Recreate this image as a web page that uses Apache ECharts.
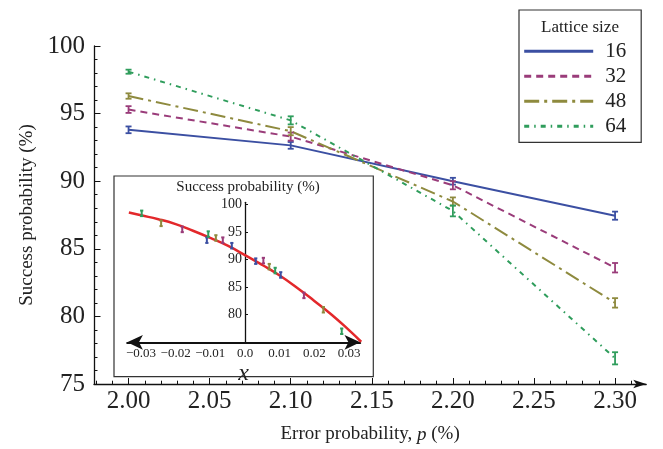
<!DOCTYPE html>
<html><head><meta charset="utf-8">
<script src="https://cdn.jsdelivr.net/npm/echarts@6/dist/echarts.min.js"></script>
<style>html,body{margin:0;padding:0;background:#fff}#c{width:663px;height:449px}</style>
</head><body><div id="c"></div>
<script>
// ---- main chart data ----
const errorProb = [2.00, 2.10, 2.20, 2.30];
const latticeNames = ['16', '32', '48', '64'];
const succ16 = [93.8, 92.65, 90.0, 87.45];
const succ32 = [95.3, 93.3, 89.7, 83.6];
const succ48 = [96.3, 93.7, 88.5, 81.0];
const succ64 = [98.1, 94.5, 87.8, 76.9];
const err16 = [0.25, 0.25, 0.25, 0.3];
const err32 = [0.25, 0.3, 0.3, 0.35];
const err48 = [0.2, 0.3, 0.3, 0.35];
const err64 = [0.15, 0.3, 0.4, 0.45];
const xMajorTicks = [2.00, 2.05, 2.10, 2.15, 2.20, 2.25, 2.30];
const xMinorTicks = [1.98, 1.99, 2.01, 2.02, 2.03, 2.04, 2.06, 2.07, 2.08, 2.09, 2.11, 2.12, 2.13, 2.14, 2.16, 2.17, 2.18, 2.19, 2.21, 2.22, 2.23, 2.24, 2.26, 2.27, 2.28, 2.29, 2.31];
const yTickLabels = [75, 80, 85, 90, 95, 100];

// ---- inset data (rescaled x) ----
const insetX16 = [-0.0110, -0.0038, 0.0031, 0.0103];
const insetY16 = [93.5, 92.5, 89.7, 87.2];
const insetX32 = [-0.0181, -0.0064, 0.0053, 0.0170];
const insetY32 = [95.45, 93.5, 89.8, 83.5];
const insetX48 = [-0.0242, -0.0084, 0.0070, 0.0226];
const insetY48 = [96.55, 93.9, 88.7, 80.9];
const insetX64 = [-0.0298, -0.0106, 0.0087, 0.0279];
const insetY64 = [98.36, 94.6, 88.0, 77.0];
const insetErr = [0.5, 0.5, 0.5, 0.5];
const fitX = [-0.0335, -0.03, -0.025, -0.02, -0.015, -0.01, -0.005, 0, 0.005, 0.01, 0.015, 0.02, 0.025, 0.03, 0.0335];
const fitY = [98.5, 98.0, 97.3, 96.4, 95.2, 93.9, 92.5, 90.8, 89.0, 87.1, 84.9, 82.5, 80.0, 77.2, 75.1];
const insetXTicks = [-0.03, -0.02, -0.01, 0, 0.01, 0.02, 0.03];
const insetYTicks = [80, 85, 90, 95, 100];

const colors = ['#3b4fa2', '#9a3c7a', '#8e8a3e', '#2f9d5c'];
const dashes = ['solid', [7, 5], [15, 5, 3, 5], [5, 5, 1.5, 5]];
const FONT = 'Liberation Serif';
const succ = [succ16, succ32, succ48, succ64];
const errs = [err16, err32, err48, err64];
const insetX = [insetX16, insetX32, insetX48, insetX64];
const insetY = [insetY16, insetY32, insetY48, insetY64];

const INSET_LEFT = 127.2, INSET_W = 233, INSET_XMIN = -0.03398, INSET_XMAX = 0.03323;
const insetZeroOffset = -(0 - INSET_XMIN) / (INSET_XMAX - INSET_XMIN) * INSET_W;

function errRender(color, cap, lw) {
  return function (params, api) {
    const x = api.value(0), y = api.value(1), e = api.value(2);
    const t = api.coord([x, y + e]), b = api.coord([x, y - e]);
    const st = { stroke: color, lineWidth: lw };
    return { type: 'group', children: [
      { type: 'line', shape: { x1: t[0], y1: t[1], x2: b[0], y2: b[1] }, style: st },
      { type: 'line', shape: { x1: t[0] - cap, y1: t[1], x2: t[0] + cap, y2: t[1] }, style: st },
      { type: 'line', shape: { x1: b[0] - cap, y1: b[1], x2: b[0] + cap, y2: b[1] }, style: st }
    ]};
  };
}

const series = [];
latticeNames.forEach((name, k) => {
  series.push({
    name: name, type: 'line', xAxisIndex: 0, yAxisIndex: 0, symbol: 'none', showSymbol: false,
    lineStyle: { color: colors[k], width: 2, type: dashes[k], cap: 'butt' },
    itemStyle: { color: colors[k] },
    data: errorProb.map((x, i) => [x, succ[k][i]]), z: 3
  });
  series.push({
    name: 'err' + name, type: 'custom', xAxisIndex: 0, yAxisIndex: 0,
    renderItem: errRender(colors[k], 3, 1.8),
    data: errorProb.map((x, i) => [x, succ[k][i], errs[k][i]]), z: 4
  });
});
series.push({
  name: 'fit', type: 'line', xAxisIndex: 2, yAxisIndex: 1, symbol: 'none', smooth: true,
  lineStyle: { color: '#e3282b', width: 2.5 },
  data: fitX.map((x, i) => [x, fitY[i]]), z: 3
});
latticeNames.forEach((name, k) => {
  series.push({
    name: 'inset' + name, type: 'custom', xAxisIndex: 2, yAxisIndex: 1,
    renderItem: errRender(colors[k], 1.6, 2),
    data: insetX[k].map((x, i) => [x, insetY[k][i], insetErr[i]]), z: 4
  });
});

const chart = echarts.init(document.getElementById('c'), null, { renderer: 'canvas' });
chart.setOption({
  animation: false,
  backgroundColor: '#fff',
  textStyle: { fontFamily: FONT },
  grid: [
    { left: 94, top: 46, width: 552.2, height: 340 },
    { left: INSET_LEFT, top: 202.3, width: INSET_W, height: 140 }
  ],
  xAxis: [
    {
      gridIndex: 0, type: 'value', min: 1.9787, max: 2.3192, position: 'bottom',
      axisLine: { show: true, onZero: false, symbol: ['none', 'arrow'], symbolSize: [6.5, 13], lineStyle: { color: '#111', width: 1.3 } },
      axisTick: { show: true, inside: true, length: 6, customValues: xMajorTicks, lineStyle: { color: '#111', width: 1 } },
      axisLabel: { customValues: xMajorTicks, formatter: v => v.toFixed(2), fontSize: 25, color: '#222', fontFamily: FONT, margin: 5 },
      splitLine: { show: false },
      name: '{n|Error probability, }{i|p}{n| (%)}', nameLocation: 'middle', nameGap: 41,
      nameTextStyle: { rich: { n: { fontSize: 19, fontFamily: FONT, color: '#222' }, i: { fontSize: 19, fontFamily: FONT, fontStyle: 'italic', color: '#222' } } }
    },
    {
      gridIndex: 0, type: 'value', min: 1.9787, max: 2.3192, position: 'bottom',
      axisLine: { show: false, onZero: false },
      axisTick: { show: true, inside: true, length: 3.3, customValues: xMinorTicks, lineStyle: { color: '#111', width: 1 } },
      axisLabel: { show: false }, splitLine: { show: false }
    },
    {
      gridIndex: 1, type: 'value', min: INSET_XMIN, max: INSET_XMAX, position: 'bottom',
      axisLine: { show: true, onZero: false, symbol: ['arrow', 'arrow'], symbolSize: [11, 15.7], lineStyle: { color: '#111', width: 2 } },
      axisTick: { show: false },
      axisLabel: { customValues: insetXTicks, fontSize: 13, color: '#222', fontFamily: FONT, margin: 5,
        formatter: v => Math.abs(v) < 1e-9 ? '0.0' : (v < 0 ? '\u2212' : '') + Math.abs(v).toFixed(2) },
      splitLine: { show: false },
      name: 'x', nameLocation: 'middle', nameGap: 4,
      nameTextStyle: { fontSize: 24, lineHeight: 14, fontStyle: 'italic', fontFamily: FONT, color: '#222' }
    }
  ],
  yAxis: [
    {
      gridIndex: 0, type: 'value', min: 75, max: 100, interval: 5,
      axisLine: { show: true, onZero: false, lineStyle: { color: '#111', width: 1.3 } },
      axisTick: { show: true, inside: true, length: 6.5, lineStyle: { color: '#111', width: 1 } },
      minorTick: { show: true, splitNumber: 5, length: 3.5, lineStyle: { color: '#111', width: 1 } },
      axisLabel: { customValues: yTickLabels, fontSize: 25, color: '#222', fontFamily: FONT, margin: 9 },
      splitLine: { show: false },
      name: 'Success probability (%)', nameLocation: 'middle', nameGap: 52, nameRotate: 90,
      nameTextStyle: { fontSize: 19, fontFamily: FONT, color: '#222' }
    },
    {
      gridIndex: 1, type: 'value', min: 75, max: 100.36, position: 'left', offset: insetZeroOffset,
      axisLine: { show: true, onZero: false, lineStyle: { color: '#111', width: 1.3 } },
      axisTick: { show: true, inside: true, length: 3, customValues: insetYTicks, lineStyle: { color: '#111', width: 1 } },
      axisLabel: { customValues: insetYTicks, fontSize: 14, color: '#222', fontFamily: FONT, margin: 3 },
      splitLine: { show: false }
    }
  ],
  legend: {
    data: latticeNames, orient: 'vertical', left: 519, top: 10,
    padding: [30.7, 15, 5.7, 3.7], itemWidth: 69, itemHeight: 14, itemGap: 4,
    borderColor: '#333', borderWidth: 1.2, backgroundColor: '#fff',
    lineStyle: { width: 3 },
    itemStyle: { opacity: 0 },
    textStyle: { fontSize: 21, lineHeight: 20.3, fontFamily: FONT, color: '#222', padding: [0, 0, 0, 7] }
  },
  graphic: [
    { type: 'rect', z: -1, shape: { x: 114, y: 176, width: 259.3, height: 200.7 }, style: { fill: '#fff', stroke: '#333', lineWidth: 1.2 } },
    { type: 'text', z: 10, x: 248, y: 187, style: { text: 'Success probability (%)', fontSize: 15, fontFamily: FONT, fill: '#222', align: 'center', verticalAlign: 'middle' } },
    { type: 'text', z: 10, x: 580, y: 28, style: { text: 'Lattice size', fontSize: 17, fontFamily: FONT, fill: '#222', align: 'center', verticalAlign: 'middle' } }
  ],
  series: series
});
</script>
</body></html>
